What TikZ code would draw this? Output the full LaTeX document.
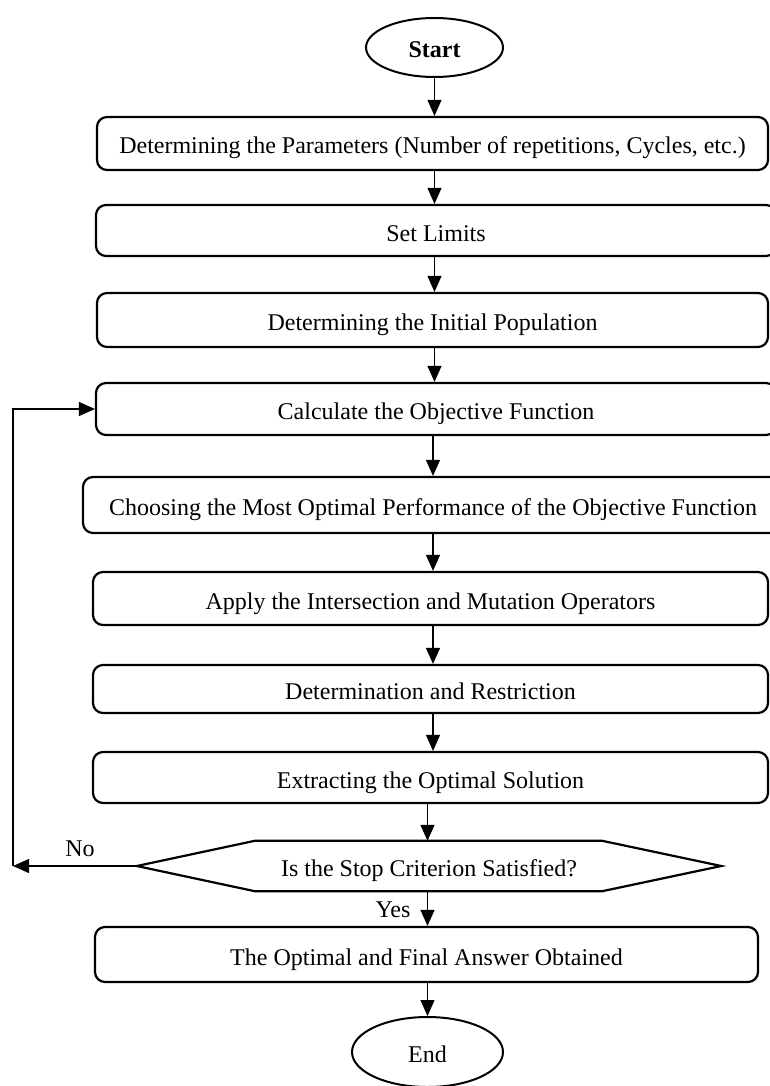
\documentclass[tikz,border=0pt]{standalone}
\usepackage{fontspec}
\setmainfont{Liberation Serif}
\usetikzlibrary{arrows.meta,shapes.geometric}
\begin{document}
\begin{tikzpicture}[x=1pt,y=-1pt,
  txt/.style={font=\fontsize{24}{28}\selectfont,text height=21pt,text depth=0pt},
  box/.style={txt,draw,line width=2.2pt,rounded corners=10pt,inner sep=0pt},
  term/.style={txt,draw,ellipse,line width=2pt,inner sep=0pt},
  arr/.style={line width=1.1pt,-{Triangle[length=16pt,width=14pt]}},
  lbl/.style={txt,inner sep=0pt}]
\useasboundingbox (0,0) rectangle (769,1086);
\node[term,minimum width=137pt,minimum height=59pt,font=\fontsize{24}{28}\selectfont\bfseries] (start) at (434.5,47.5) {Start};
\node[box,minimum width=671pt,minimum height=53pt] (b1) at (432.5,143.5) {Determining the Parameters (Number of repetitions, Cycles, etc.)};
\node[box,minimum width=680pt,minimum height=51pt] (b2) at (436,230.5) {Set Limits};
\node[box,minimum width=671pt,minimum height=54pt] (b3) at (432.5,320) {Determining the Initial Population};
\node[box,minimum width=680pt,minimum height=52pt] (b4) at (436,409) {Calculate the Objective Function};
\node[box,minimum width=700pt,minimum height=56pt] (b5) at (433,505) {Choosing the Most Optimal Performance of the Objective Function};
\node[box,minimum width=675pt,minimum height=53pt] (b6) at (430.5,598.5) {Apply the Intersection and Mutation Operators};
\node[box,minimum width=675pt,minimum height=48pt] (b7) at (430.5,689) {Determination and Restriction};
\node[box,minimum width=675pt,minimum height=51pt] (b8) at (430.5,777.5) {Extracting the Optimal Solution};
\node[txt,inner sep=0pt,minimum width=584pt,minimum height=50pt] (dec) at (429,866) {Is the Stop Criterion Satisfied?};
\draw[line width=2.2pt,line join=miter] (dec.west) -- ([xshift=118pt]dec.north west) -- ([xshift=-119pt]dec.north east) -- (dec.east) -- ([xshift=-119pt]dec.south east) -- ([xshift=118pt]dec.south west) -- cycle;
\node[box,minimum width=663pt,minimum height=55pt] (b9) at (426.5,954.5) {The Optimal and Final Answer Obtained};
\node[term,minimum width=151pt,minimum height=70pt] (endn) at (427.5,1052) {End};
\coordinate (lp) at (13,866);
\node[lbl] (no) at (80,846) {No};
\node[lbl] (yes) at (393,907) {Yes};
\draw[arr] (start.south) -- (start.south |- b1.north);
\draw[arr] (b1.south -| start) -- (b2.north -| start);
\draw[arr] (b2.south -| start) -- (b3.north -| start);
\draw[arr] (b3.south -| start) -- (b4.north -| start);
\draw[arr] (b4.south -| b5) -- (b5.north);
\draw[arr] (b5.south -| b5) -- (b6.north -| b5);
\draw[arr] (b6.south -| b5) -- (b7.north -| b5);
\draw[arr] (b7.south -| b5) -- (b8.north -| b5);
\draw[arr] (b8.south -| endn) -- (dec.north -| endn);
\draw[arr] (dec.south -| endn) -- (b9.north -| endn);
\draw[arr] (b9.south -| endn) -- (endn.north);
\draw[arr] (dec.west) -- (lp);
\draw[arr] (lp) |- (b4.west);
\end{tikzpicture}
\end{document}
